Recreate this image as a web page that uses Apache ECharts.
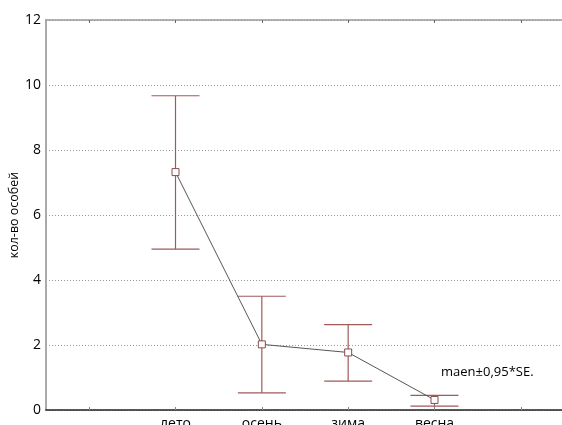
<!DOCTYPE html>
<html><head><meta charset="utf-8">
<script src="https://cdn.jsdelivr.net/npm/echarts@6/dist/echarts.min.js"></script>
<style>html,body{margin:0;padding:0;background:#fff}#c{width:562px;height:425px}</style>
</head><body><div id="c"></div>
<script>
var categories = ['', 'лето', 'осень', 'зима', 'весна', ''];
var means  = [null, 7.32, 2.02, 1.77, 0.31, null];
var lowers = [null, 4.95, 0.53, 0.89, 0.12, null];
var uppers = [null, 9.67, 3.50, 2.63, 0.45, null];
var yTicks = [0, 2, 4, 6, 8, 10, 12];

var errData = [];
for (var i = 0; i < categories.length; i++) {
  if (means[i] !== null) errData.push([i, lowers[i], uppers[i]]);
}
var FONT = 'Open Sans';
var chart = echarts.init(document.getElementById('c'));
chart.setOption({
  animation: false,
  textStyle: {fontFamily: FONT},
  grid: {left: 46, top: 20, right: -2, bottom: 15, outerBoundsMode: 'none', containLabel: false},
  xAxis: [{
    type: 'category', data: categories, position: 'bottom',
    axisLine: {lineStyle: {color: '#222', width: 1.5}},
    axisTick: {show: true, inside: true, alignWithLabel: true, interval: 0, length: 3, lineStyle: {color: '#888'}},
    axisLabel: {interval: 0, color: '#000', fontSize: 14, margin: 7, fontFamily: FONT},
    splitLine: {show: false}
  }, {
    type: 'category', data: categories, position: 'top',
    axisLine: {lineStyle: {color: '#999', width: 1.5}},
    axisTick: {show: true, inside: true, alignWithLabel: true, interval: 0, length: 3, lineStyle: {color: '#666'}},
    axisLabel: {show: false}
  }],
  yAxis: {
    type: 'value', min: 0, max: 12, interval: 2,
    name: 'кол-во особей', nameLocation: 'middle', nameGap: 25, nameRotate: 90,
    nameMoveOverlap: false,
    nameTextStyle: {color: '#000', fontSize: 12.5, fontFamily: FONT},
    axisLine: {show: true, lineStyle: {color: '#aaa', width: 2}},
    axisTick: {show: false},
    axisLabel: {color: '#000', fontSize: 14, margin: 5, fontFamily: FONT,
      formatter: function (v) { return yTicks.indexOf(v) >= 0 ? String(v) : ''; }},
    splitLine: {show: true, lineStyle: {color: '#999', type: [1, 2], width: 1}}
  },
  series: [{
    type: 'custom',
    data: errData,
    z: 2,
    renderItem: function (params, api) {
      var x = api.value(0);
      var lo = api.coord([x, api.value(1)]);
      var hi = api.coord([x, api.value(2)]);
      var hw = 24;
      var st = {stroke: '#a05a5a', lineWidth: 1.2};
      return {type: 'group', children: [
        {type: 'line', shape: {x1: lo[0], y1: lo[1], x2: hi[0], y2: hi[1]}, style: st},
        {type: 'line', shape: {x1: hi[0] - hw, y1: hi[1], x2: hi[0] + hw, y2: hi[1]}, style: st},
        {type: 'line', shape: {x1: lo[0] - hw, y1: lo[1], x2: lo[0] + hw, y2: lo[1]}, style: st}
      ]};
    }
  }, {
    type: 'line',
    data: means,
    z: 3,
    connectNulls: false,
    symbol: 'rect', symbolSize: 7, showSymbol: true,
    lineStyle: {color: '#555', width: 1},
    itemStyle: {color: '#fff', borderColor: '#8a4a4a', borderWidth: 1}
  }],
  graphic: [{
    type: 'text', left: 441, top: 366,
    style: {text: 'maen±0,95*SE.', fontSize: 13, fill: '#000', fontFamily: FONT}
  }]
});
</script></body></html>
